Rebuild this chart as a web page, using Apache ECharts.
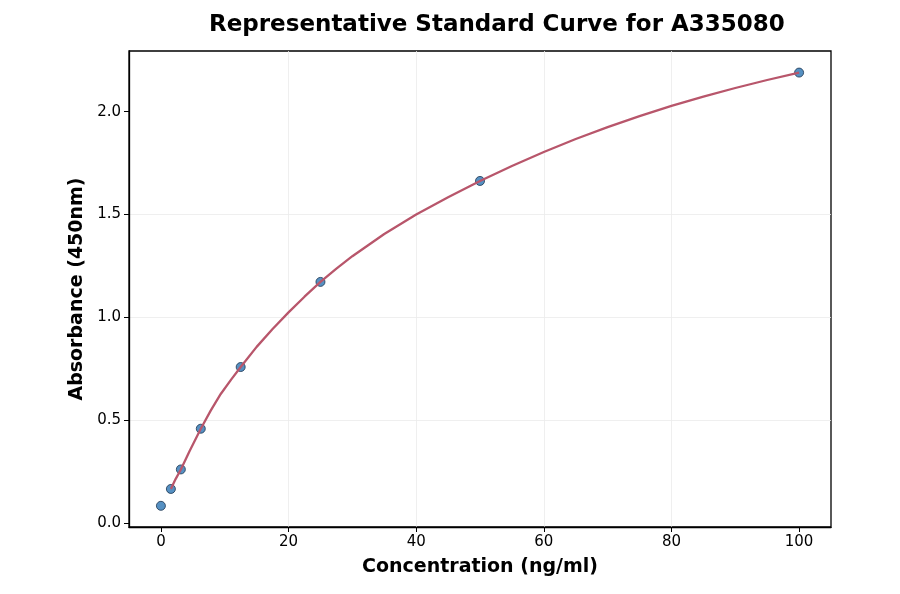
<!DOCTYPE html>
<html><head><meta charset="utf-8">
<script src="https://cdn.jsdelivr.net/npm/echarts@6/dist/echarts.min.js"></script>
<style>html,body{margin:0;padding:0;background:#fff}#c{width:900px;height:594px}</style>
</head><body><div id="c"></div>
<script>
const concentrations = [0, 1.5625, 3.125, 6.25, 12.5, 25, 50, 100];
const absorbances = [0.083, 0.165, 0.26, 0.458, 0.758, 1.172, 1.663, 2.19];
const curveX = [1.5625, 2.3, 3.125, 4.5, 6.25, 7.8, 9.375, 11, 12.5, 15, 17.5, 20, 22.5, 25, 27.5, 30, 35, 40, 45, 50, 55, 60, 65, 70, 75, 80, 85, 90, 95, 100];
const curveY = [0.165, 0.213, 0.26, 0.35, 0.458, 0.546, 0.627, 0.697, 0.758, 0.856, 0.943, 1.024, 1.100, 1.172, 1.237, 1.297, 1.405, 1.50, 1.584, 1.663, 1.736, 1.804, 1.867, 1.925, 1.978, 2.028, 2.073, 2.115, 2.154, 2.19];
const xTicks = [0, 20, 40, 60, 80, 100];
const yTicks = [0.0, 0.5, 1.0, 1.5, 2.0];

const font = 'DejaVu Sans';
const chart = echarts.init(document.getElementById('c'));
chart.setOption({
  animation: false,
  backgroundColor: '#fff',
  title: {
    text: 'Representative Standard Curve for A335080',
    left: 204, top: 9,
    textStyle: {fontFamily: font, fontWeight: 'bold', fontSize: 23, color: '#000'}
  },
  grid: {left: 129, right: 69, top: 51, bottom: 67, show: true, borderColor: '#000', borderWidth: 1.3},
  xAxis: {
    type: 'value', min: -5, max: 105, interval: 5,
    name: 'Concentration (ng/ml)', nameLocation: 'middle', nameGap: 31,
    nameTextStyle: {fontFamily: font, fontWeight: 'bold', fontSize: 19, color: '#000'},
    axisLine: {show: true, onZero: false, lineStyle: {color: '#000', width: 1.3}},
    axisTick: {show: true, length: 5, lineStyle: {color: '#000'}, customValues: xTicks},
    axisLabel: {fontFamily: font, fontSize: 15, color: '#000', margin: 8, customValues: xTicks},
    splitLine: {show: true, lineStyle: {color: '#ebebeb', width: 0.8}, showMinLine: false, showMaxLine: false}
  },
  yAxis: {
    type: 'value', min: -0.02, max: 2.295,
    name: 'Absorbance (450nm)', nameLocation: 'middle', nameGap: 42,
    nameTextStyle: {fontFamily: font, fontWeight: 'bold', fontSize: 19, color: '#000'},
    axisLine: {show: true, onZero: false, lineStyle: {color: '#000', width: 1.3}},
    axisTick: {show: true, length: 5, lineStyle: {color: '#000'}, customValues: yTicks},
    axisLabel: {fontFamily: font, fontSize: 15, color: '#000', margin: 8, customValues: yTicks,
      formatter: v => v.toFixed(1)},
    splitLine: {show: true, lineStyle: {color: '#ebebeb', width: 0.8}, showMinLine: false, showMaxLine: false}
  },
  series: [
    {
      type: 'scatter', data: concentrations.map((x, i) => [x, absorbances[i]]),
      symbolSize: 9, z: 2,
      itemStyle: {color: '#2a74b3', borderColor: '#1b3550', borderWidth: 1}
    },
    {
      type: 'line', data: curveX.map((x, i) => [x, curveY[i]]),
      smooth: false, showSymbol: false, z: 3,
      lineStyle: {color: '#b8566b', width: 2.3, join: 'round'}
    }
  ]
});
</script></body></html>
